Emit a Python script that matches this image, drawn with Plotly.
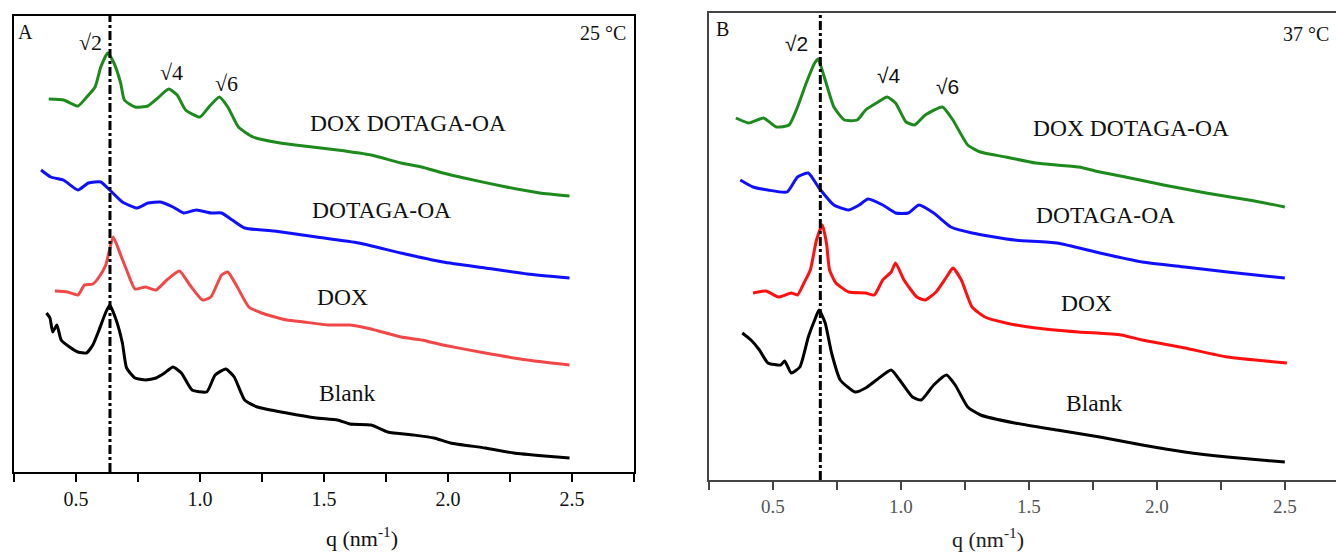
import plotly.graph_objects as go

# ---------------- Panel A (25 °C) ----------------
qa_green = [0.39,0.45,0.508,0.54,0.577,0.60,0.628,0.653,0.68,0.695,0.738,0.79,0.83,0.874,0.908,0.942,1.0,1.036,1.078,1.112,1.155,1.214,1.30,1.384,1.554,1.69,1.81,1.894,1.98,2.065,2.235,2.37,2.49]
ia_green = [373,372,366,374,385,405,419,409,389,372,365,366,374,383,377,362,355,365,375,365,345,335,330,327,322,317,309,305,299,294,285,279,276]

qa_blue = [0.359,0.398,0.449,0.508,0.55,0.60,0.636,0.687,0.747,0.79,0.84,0.891,0.934,0.985,1.044,1.087,1.13,1.18,1.30,1.47,1.64,1.81,1.98,2.15,2.32,2.49]
ia_blue = [302,295,292,282,289,290,282,270,264,269,270,265,259,262,259,259,252,244,241,235,229,219,210,204,198,194]

qa_red = [0.415,0.466,0.508,0.534,0.568,0.593,0.62,0.65,0.68,0.704,0.738,0.78,0.823,0.866,0.917,0.959,1.01,1.044,1.087,1.112,1.146,1.197,1.248,1.35,1.418,1.52,1.605,1.69,1.81,1.894,1.98,2.15,2.32,2.49]
ia_red = [181,180,177,187,188,195,207,235,217,202,183,185,182,192,201,187,172,175,197,200,187,165,159,152,150,147,147,143,135,132,127,119,112,107]

qa_black = [0.381,0.395,0.406,0.423,0.44,0.474,0.508,0.542,0.568,0.593,0.619,0.636,0.662,0.687,0.704,0.738,0.78,0.823,0.857,0.891,0.925,0.968,1.027,1.061,1.104,1.138,1.18,1.231,1.35,1.469,1.554,1.605,1.69,1.757,1.86,1.944,2.01,2.15,2.265,2.39,2.49]
ia_black = [159,154,140,147,132,125,120,119,127,142,159,167,152,129,104,94,92,94,99,105,99,82,80,97,103,95,72,65,59,54,52,48,47,40,37,34,29,24,19,16,14]

# ---------------- Panel B (37 °C) ----------------
qb_green = [0.355,0.405,0.463,0.513,0.563,0.596,0.63,0.663,0.676,0.704,0.738,0.779,0.829,0.862,0.904,0.946,0.979,1.02,1.054,1.095,1.162,1.203,1.261,1.31,1.41,1.527,1.694,1.777,1.877,2.026,2.192,2.359,2.5]
ib_green = [362,357,362,353,355,373,397,417,421,400,373,360,360,370,377,383,377,358,355,365,373,360,335,328,323,317,313,308,303,295,287,280,273]

qb_blue = [0.372,0.422,0.48,0.555,0.596,0.638,0.68,0.738,0.796,0.837,0.871,0.929,0.979,1.029,1.07,1.128,1.195,1.278,1.444,1.61,1.777,1.943,2.109,2.276,2.5]
ib_blue = [300,293,290,288,303,307,292,275,270,275,281,275,267,267,275,267,253,247,240,237,227,218,213,208,202]

qb_red = [0.422,0.472,0.522,0.571,0.596,0.621,0.646,0.67,0.693,0.71,0.721,0.746,0.796,0.862,0.896,0.929,0.962,0.979,1.012,1.062,1.095,1.137,1.178,1.203,1.236,1.278,1.328,1.41,1.527,1.694,1.86,1.943,2.109,2.276,2.508]
ib_red = [187,189,183,187,185,197,210,240,255,235,210,197,188,187,185,200,208,217,200,183,180,188,203,212,200,173,163,157,152,148,145,140,132,123,117]

qb_black = [0.38,0.414,0.447,0.48,0.53,0.546,0.571,0.605,0.638,0.663,0.68,0.704,0.729,0.763,0.821,0.862,0.904,0.962,0.995,1.045,1.079,1.128,1.178,1.212,1.261,1.311,1.444,1.61,1.777,1.943,2.109,2.276,2.5]
ib_black = [147,140,130,117,115,119,107,113,143,160,170,157,127,100,88,92,100,110,100,83,80,95,105,95,73,65,57,50,43,35,28,23,18]

tick_vals = [0.5, 1.0, 1.5, 2.0, 2.5]
tick_text = ["0.5", "1.0", "1.5", "2.0", "2.5"]
dash_q_a = 0.637
dash_q_b = 0.685

W, H = 1336, 552
SERIF = "Liberation Serif, Times New Roman, serif"
SANS = "Liberation Sans, Arial, sans-serif"

fig = go.Figure()

def add(q, i, color, ax, w):
    fig.add_trace(go.Scatter(x=q, y=i, mode="lines",
                             line=dict(color=color, width=w, shape="spline", smoothing=0.5),
                             xaxis=ax[0], yaxis=ax[1], showlegend=False, hoverinfo="skip"))

add(qa_green, ia_green, "#1e8a1e", ("x", "y"), 3)
add(qa_blue, ia_blue, "#1010ff", ("x", "y"), 3)
add(qa_red, ia_red, "#f04848", ("x", "y"), 3)
add(qa_black, ia_black, "#000000", ("x", "y"), 3)

add(qb_green, ib_green, "#1e8a1e", ("x2", "y2"), 3)
add(qb_blue, ib_blue, "#1010ff", ("x2", "y2"), 3)
add(qb_red, ib_red, "#ff1010", ("x2", "y2"), 3)
add(qb_black, ib_black, "#000000", ("x2", "y2"), 3)

def px_dom_x(a, b):
    return [a / W, b / W]

def px_dom_y(top, bottom):
    return [1 - bottom / H, 1 - top / H]

common_x = dict(tickvals=tick_vals, ticktext=tick_text, ticks="outside", ticklen=8, tickwidth=1.5,
                showgrid=False, zeroline=False, showline=True, linewidth=1.5,
                minor=dict(tick0=0.25, dtick=0.25, ticks="outside", ticklen=8, tickwidth=1.5))

fig.update_layout(
    width=W, height=H, margin=dict(l=0, r=0, t=0, b=0),
    paper_bgcolor="white", plot_bgcolor="white",
    xaxis=dict(domain=px_dom_x(14, 634), range=[0.25, 2.75], anchor="y", mirror=True,
               linecolor="black", tickcolor="black",
               tickfont=dict(family=SERIF, size=20, color="#111"), **common_x),
    yaxis=dict(domain=px_dom_y(16, 472), range=[0, 456], anchor="x", showticklabels=False,
               ticks="", showgrid=False, zeroline=False, showline=True, linewidth=1.5,
               linecolor="black", mirror=True),
    xaxis2=dict(domain=px_dom_x(709, 1336), range=[0.25, 2.70], anchor="y2", mirror=True,
                linecolor="#444", tickcolor="#444",
                tickfont=dict(family=SERIF, size=19, color="#555"), **common_x),
    yaxis2=dict(domain=px_dom_y(13, 480), range=[0, 467], anchor="x2", showticklabels=False,
                ticks="", showgrid=False, zeroline=False, showline=True, linewidth=1.5,
                linecolor="#444", mirror=False),
)

# dash-dot reference lines
fig.add_shape(type="line", xref="x", yref="y domain", x0=dash_q_a, x1=dash_q_a, y0=0, y1=1,
              line=dict(color="black", width=3, dash="dashdot"))
fig.add_shape(type="line", xref="x2", yref="y2 domain", x0=dash_q_b, x1=dash_q_b, y0=0, y1=1,
              line=dict(color="black", width=3, dash="dashdot"))

def ann(text, x, y, ax, font, size=23.5, color="#111", xanchor="center"):
    fig.add_annotation(text=text, x=x, y=y, xref=ax[0], yref=ax[1], showarrow=False,
                       font=dict(family=font, size=size, color=color), xanchor=xanchor, yanchor="middle")

A = ("x", "y")
B = ("x2", "y2")
ann("√2", 0.56, 430, A, SERIF, size=22)
ann("√4", 0.887, 400, A, SERIF, size=22)
ann("√6", 1.105, 389, A, SERIF, size=22)
ann("DOX DOTAGA-OA", 1.839, 349, A, SERIF)
ann("DOTAGA-OA", 1.73, 262, A, SERIF)
ann("DOX", 1.573, 175, A, SERIF)
ann("Blank", 1.593, 79, A, SERIF)
ann("A", 0.298, 440, A, SERIF, size=20)
ann("25 °C", 2.625, 439, A, SERIF, size=20)

ann("√2", 0.591, 437, B, SANS, size=21)
ann("√4", 0.954, 405, B, SANS, size=21)
ann("√6", 1.181, 394, B, SANS, size=21)
ann("DOX DOTAGA-OA", 1.90, 352, B, SERIF)
ann("DOTAGA-OA", 1.80, 265, B, SERIF)
ann("DOX", 1.724, 177, B, SERIF)
ann("Blank", 1.755, 77, B, SERIF)
ann("B", 0.302, 451, B, SERIF, size=20)
ann("37 °C", 2.583, 446, B, SERIF, size=20)

# axis titles
fig.add_annotation(text="q (nm<sup>-1</sup>)", x=324 / W, y=1 - 537 / H, xref="paper", yref="paper",
                   showarrow=False, font=dict(family=SERIF, size=22, color="#111"), yanchor="middle")
fig.add_annotation(text="q (nm<sup>-1</sup>)", x=1026 / W, y=1 - 538 / H, xref="paper", yref="paper",
                   showarrow=False, font=dict(family=SERIF, size=22, color="#222"), yanchor="middle")

fig.write_html("out.html", config={"displayModeBar": False},
               post_script="document.body.style.margin='0';document.body.style.overflow='hidden';")
